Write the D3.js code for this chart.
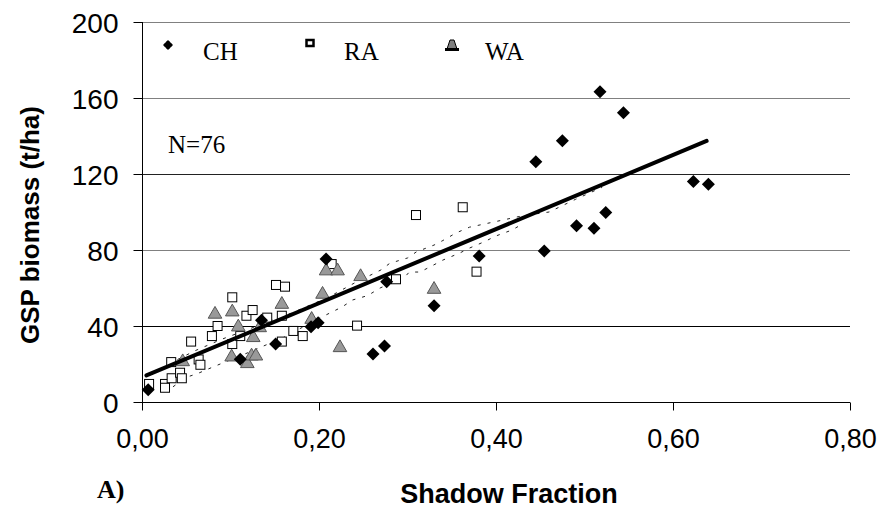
<!DOCTYPE html>
<html><head><meta charset="utf-8">
<script src="https://cdn.jsdelivr.net/npm/d3@7"></script>
<style>body{margin:0;background:#fff}svg{display:block}</style>
</head><body>
<svg id="c" width="891" height="510"></svg>
<script>
const chX = [0.007,0.111,0.135,0.151,0.191,0.199,0.208,0.261,0.274,0.2765,0.330,0.381,0.4545,0.445,0.475,0.491,0.5107,0.5175,0.524,0.544,0.623,0.640];
const chY = [6.5,22.5,43,30.5,39.6,41.7,75.3,25.3,29.5,63.3,50.7,76.8,79.5,126.5,137.5,92.8,91.4,163.3,99.8,152.3,116,114.6];
const raX = [0.008,0.026,0.026,0.033,0.0335,0.043,0.045,0.0555,0.064,0.066,0.079,0.0854,0.102,0.102,0.111,0.118,0.125,0.1415,0.1514,0.158,0.158,0.1616,0.171,0.1816,0.2143,0.243,0.287,0.3096,0.3624,0.378];
const raY = [9.5,9.5,7.5,21,12.5,15.4,12.5,31.8,22.4,19.6,34.7,40,55.1,30.5,34.7,45.4,48.4,44.4,61.6,45.4,31.8,60.7,37.4,34.7,72.6,40.2,64.6,98.4,102.5,68.6];
const waX = [0.046,0.0825,0.1013,0.102,0.1088,0.119,0.1238,0.1257,0.1287,0.133,0.158,0.1917,0.204,0.208,0.221,0.2237,0.247,0.33];
const waY = [21.7,46.7,24.2,47.9,40,20.7,24.7,34.4,24.7,39.6,51.9,44,57.2,69.5,69.5,29.1,66.5,59.8];
const fitX = [0.005,0.638];
const fitSlope = 195, fitIntercept = 13;
const upX = [0.03,0.06,0.09,0.13,0.17,0.21,0.24,0.27,0.28,0.30,0.31,0.33,0.34,0.355,0.37,0.40,0.43,0.46,0.49,0.52];
const upY = [20,27,33,40,47,55,62.6,69.5,73,75.8,79,82.6,85,89,92,95,98,100,106.7,113];
const loX = [0.035,0.05,0.063,0.08,0.12,0.16,0.20,0.226,0.238,0.255,0.269,0.282,0.297,0.302,0.314,0.325,0.34,0.359,0.37,0.387,0.40,0.418,0.43];
const loY = [8,13,15,18.4,26,34,44,50,53.7,56,60,62.6,65.8,68.4,68.4,71,74.7,78.4,81,84.4,87.4,90.5,93.7];
const xTicks = [0,0.2,0.4,0.6,0.8];
const yTicks = [0,40,80,120,160,200];
const xTickLabels = ["0,00","0,20","0,40","0,60","0,80"];
const seriesNames = ["CH","RA","WA"];

const svg = d3.select("#c");
const x = d3.scaleLinear().domain([0,0.8]).range([142,850]);
const y = d3.scaleLinear().domain([0,200]).range([402,22]);
const sans = "Liberation Sans, Arial, sans-serif";
const serif = "Liberation Serif, Times New Roman, serif";

// gridlines
const gridColor = {0:"#000",40:"#000",80:"#808080",120:"#222",160:"#808080",200:"#808080"};
svg.append("g").selectAll("line").data(yTicks).join("line")
  .attr("x1",x(0)).attr("x2",x(0.8))
  .attr("y1",d=>y(d)+0.5).attr("y2",d=>y(d)+0.5)
  .attr("stroke",d=>gridColor[d]).attr("stroke-width",1.2);

// y axis
const yAx = svg.append("g").attr("transform",`translate(${x(0)+0.5},0)`)
  .call(d3.axisLeft(y).tickValues(yTicks).tickSize(9).tickPadding(15).tickFormat(d3.format("d")));
yAx.select(".domain").remove();
yAx.selectAll("line").attr("stroke","#000");
yAx.selectAll("text").attr("font-family",sans).attr("font-size",28).attr("fill","#000").attr("dy","0.36em");
svg.append("line").attr("x1",x(0)+0.5).attr("x2",x(0)+0.5).attr("y1",y(200)).attr("y2",410).attr("stroke","#000");

// x axis
const xAx = svg.append("g").attr("transform",`translate(0,${y(0)+0.5})`)
  .call(d3.axisBottom(x).tickValues(xTicks).tickSize(8).tickPadding(18).tickFormat((d,i)=>xTickLabels[i]));
xAx.select(".domain").remove();
xAx.selectAll("line").attr("stroke","#000");
xAx.selectAll("text").attr("font-family",sans).attr("font-size",27).attr("fill","#000");

// confidence bands (dashed)
const lineGen = d3.line().x(d=>x(d[0])).y(d=>y(d[1]));
[[upX,upY],[loX,loY]].forEach(([xs,ys])=>{
  svg.append("path").attr("d",lineGen(xs.map((v,i)=>[v,ys[i]])))
    .attr("fill","none").attr("stroke","#222").attr("stroke-width",1).attr("stroke-dasharray","3,7");
});

// markers
const tri = d3.symbol().type(d3.symbolTriangle).size(80);
const diaPath = "M0,-6.5L6.5,0L0,6.5L-6.5,0Z";
svg.append("g").selectAll("rect").data(raX.map((v,i)=>[v,raY[i]])).join("rect")
  .attr("x",d=>x(d[0])-4.5).attr("y",d=>y(d[1])-4.5).attr("width",9).attr("height",9)
  .attr("fill","#fff").attr("stroke","#000").attr("stroke-width",1);
svg.append("g").selectAll("path").data(waX.map((v,i)=>[v,waY[i]])).join("path")
  .attr("d",tri).attr("transform",d=>`translate(${x(d[0])},${y(d[1])+1})`)
  .attr("fill","#999").attr("stroke","#555").attr("stroke-width",1);
svg.append("g").selectAll("path").data(chX.map((v,i)=>[v,chY[i]])).join("path")
  .attr("d",diaPath).attr("transform",d=>`translate(${x(d[0])},${y(d[1])})`)
  .attr("fill","#000");

// regression line
svg.append("line")
  .attr("x1",x(fitX[0])).attr("y1",y(fitIntercept+fitSlope*fitX[0]))
  .attr("x2",x(fitX[1])).attr("y2",y(fitIntercept+fitSlope*fitX[1]))
  .attr("stroke","#000").attr("stroke-width",4).attr("stroke-linecap","round");

// legend
const legX = [168,310,452], legTX = [203,344,485];
svg.append("path").attr("d","M0,-5L5,0L0,5L-5,0Z").attr("transform",`translate(${legX[0]},45)`).attr("fill","#000");
svg.append("path").attr("d",d3.symbol().type(d3.symbolCross).size(34)()).attr("transform",`translate(${legX[0]},45)`).attr("fill","#000");
svg.append("rect").attr("x",legX[1]-3.5).attr("y",40).attr("width",7).attr("height",6).attr("fill","#fff").attr("stroke","#000").attr("stroke-width",2.5);
svg.append("path").attr("d","M-5,5 L-2,-4 L2,-4 L5,5 Z").attr("transform",`translate(${legX[2]},44)`).attr("fill","#808080").attr("stroke","#000").attr("stroke-width",1);
svg.append("rect").attr("x",legX[2]-7).attr("y",48).attr("width",14).attr("height",3).attr("fill","#000");
seriesNames.forEach((n,i)=>svg.append("text").attr("x",legTX[i]).attr("y",60).text(n)
  .attr("font-family",serif).attr("font-size",25).attr("fill","#000"));

svg.append("text").attr("x",168).attr("y",153).text("N=76").attr("font-family",serif).attr("font-size",25).attr("fill","#000");

// axis titles
svg.append("text").attr("x",509).attr("y",503).attr("text-anchor","middle").text("Shadow Fraction")
  .attr("font-family",sans).attr("font-weight","bold").attr("font-size",27);
svg.append("text").attr("transform","translate(39,225) rotate(-90)").attr("text-anchor","middle").text("GSP biomass (t/ha)")
  .attr("font-family",sans).attr("font-weight","bold").attr("font-size",26);
svg.append("text").attr("x",97).attr("y",498).text("A)").attr("font-family",serif).attr("font-weight","bold").attr("font-size",26);
</script>
</body></html>
